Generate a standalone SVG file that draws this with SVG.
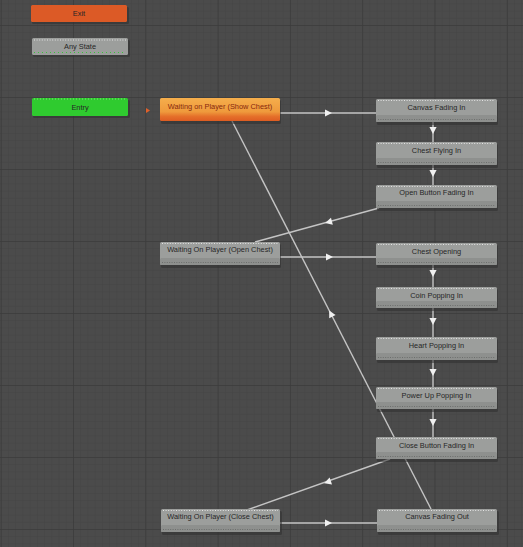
<svg xmlns="http://www.w3.org/2000/svg" width="523" height="547" viewBox="0 0 523 547">
  <defs>
    <!-- editor grid: fine lines every ~7px, heavy lines every ~72px -->
    <pattern id="gridMinor" x="0.7" y="25" width="7.23" height="7.2" patternUnits="userSpaceOnUse">
      <path d="M0,0 H7.23 M0,0 V7.2" fill="none" stroke="#444444" stroke-width="1"/>
    </pattern>
    <pattern id="gridMajor" x="0.7" y="25" width="72.3" height="72" patternUnits="userSpaceOnUse">
      <path d="M0,0 H72.3 M0,0 V72" fill="none" stroke="#3b3b3b" stroke-width="1.5"/>
    </pattern>
    <linearGradient id="orangeState" x1="0" y1="0" x2="0" y2="1">
      <stop offset="0" stop-color="#f5ae4c"/>
      <stop offset="0.6" stop-color="#ef9a3c"/>
      <stop offset="0.8" stop-color="#e5702a"/>
      <stop offset="1" stop-color="#dd5c22"/>
    </linearGradient>
    <path id="arrow" d="M4,0 L-3,-3.6 L-3,3.6 Z"/>
    <style>
      .bg { fill: #4b4b4b; }
      .shadow { fill: #303030; opacity: 0.55; }
      .state { fill: #9c9e9c; }
      .band { fill: #8e908e; }
      .hi { stroke: #e4e4e4; stroke-width: 1; stroke-dasharray: 1 1.6; fill: none; }
      .lo { stroke: #6c6e6c; stroke-width: 1; stroke-dasharray: 1 1.4; fill: none; }
      .label { font-family: "Liberation Sans", Arial, sans-serif; font-size: 7.4px; fill: #262626; text-anchor: middle; }
      .edge { stroke: #c4c4c4; stroke-width: 1.4; fill: none; }
      .head { fill: #f0f0f0; }
    </style>
  </defs>

  <!-- canvas -->
  <rect class="bg" x="0" y="0" width="523" height="547"/>
  <rect x="0" y="0" width="523" height="547" fill="url(#gridMinor)"/>
  <rect x="0" y="0" width="523" height="547" fill="url(#gridMajor)"/>

  <!-- transitions (drawn beneath the states) -->
  <g id="connectors">
    <line class="edge" x1="280" y1="113" x2="376" y2="113"/>
    <line class="edge" x1="433" y1="122" x2="433" y2="142"/>
    <line class="edge" x1="433" y1="165" x2="433" y2="185"/>
    <line class="edge" x1="379" y1="208" x2="255" y2="242"/>
    <line class="edge" x1="280" y1="257" x2="376" y2="257"/>
    <line class="edge" x1="433" y1="265" x2="433" y2="287"/>
    <line class="edge" x1="433" y1="308" x2="433" y2="337"/>
    <line class="edge" x1="433" y1="360" x2="433" y2="387"/>
    <line class="edge" x1="433" y1="409" x2="433" y2="437"/>
    <line class="edge" x1="390" y1="459" x2="247" y2="510"/>
    <line class="edge" x1="280" y1="523" x2="377" y2="523"/>
    <line class="edge" x1="431" y1="509" x2="232" y2="121"/>

    <use href="#arrow" class="head" transform="translate(328,113)"/>
    <use href="#arrow" class="head" transform="translate(433,130) rotate(90)"/>
    <use href="#arrow" class="head" transform="translate(433,173) rotate(90)"/>
    <use href="#arrow" class="head" transform="translate(329,222) rotate(165.4)"/>
    <use href="#arrow" class="head" transform="translate(329,257)"/>
    <use href="#arrow" class="head" transform="translate(433,273) rotate(90)"/>
    <use href="#arrow" class="head" transform="translate(433,321) rotate(90)"/>
    <use href="#arrow" class="head" transform="translate(433,372) rotate(90)"/>
    <use href="#arrow" class="head" transform="translate(433,422) rotate(90)"/>
    <use href="#arrow" class="head" transform="translate(328,482) rotate(160.4)"/>
    <use href="#arrow" class="head" transform="translate(328,523)"/>
    <use href="#arrow" class="head" transform="translate(331,314) rotate(-117.2)"/>
  </g>

  <!-- special states -->
  <g id="exit">
    <rect class="shadow" x="32" y="7" width="97" height="17" rx="1.5"/>
    <rect x="31" y="5" width="96" height="17" rx="1.5" fill="#dc5a26"/>
    <text class="label" x="79" y="16">Exit</text>
  </g>
  <g id="any-state">
    <rect class="shadow" x="33" y="40" width="97" height="17" rx="1.5"/>
    <rect class="state" x="32" y="38" width="96" height="17" rx="1.5"/>
    <path class="hi" d="M34,40 H126"/>
    <path d="M34,52.5 H126" stroke="#3ac23a" stroke-width="1" stroke-dasharray="1 3" fill="none"/>
    <text class="label" x="80" y="49">Any State</text>
  </g>
  <g id="entry">
    <rect class="shadow" x="33" y="100" width="97" height="18" rx="1.5"/>
    <rect x="32" y="98" width="96" height="18" rx="1.5" fill="#2fcb2f"/>
    <path d="M34,99 H126" stroke="#7ee27e" stroke-width="1" stroke-dasharray="1 2" fill="none"/>
    <text class="label" x="80" y="109.5">Entry</text>
  </g>

  <!-- default-state marker -->
  <path d="M146,108 L150,110.5 L146,113 Z" fill="#e0602a"/>

  <!-- default state -->
  <g id="waiting-show-chest">
    <rect class="shadow" x="161" y="100" width="120" height="24" rx="1.5"/>
    <rect x="160" y="98" width="120" height="23" rx="1.5" fill="url(#orangeState)"/>
    <text class="label" x="220" y="109" style="fill:#86290e">Waiting on Player (Show Chest)</text>
  </g>

  <!-- right column -->
  <g id="canvas-fading-in">
    <rect class="shadow" x="377" y="101" width="121" height="24" rx="1.5"/>
    <rect class="state" x="376" y="99" width="121" height="23" rx="1.5"/>
    <rect class="band" x="376" y="115" width="121" height="7" rx="1.5"/>
    <path class="hi" d="M378,100.5 H495"/>
    <path class="lo" d="M378,119.5 H495"/>
    <text class="label" x="436.5" y="110">Canvas Fading In</text>
  </g>
  <g id="chest-flying-in">
    <rect class="shadow" x="377" y="144" width="121" height="24" rx="1.5"/>
    <rect class="state" x="376" y="142" width="121" height="23" rx="1.5"/>
    <rect class="band" x="376" y="158" width="121" height="7" rx="1.5"/>
    <path class="hi" d="M378,143.5 H495"/>
    <path class="lo" d="M378,162.5 H495"/>
    <text class="label" x="436.5" y="153">Chest Flying In</text>
  </g>
  <g id="open-button-fading-in">
    <rect class="shadow" x="377" y="187" width="121" height="24" rx="1.5"/>
    <rect class="state" x="376" y="185" width="121" height="23" rx="1.5"/>
    <rect class="band" x="376" y="201" width="121" height="7" rx="1.5"/>
    <path class="hi" d="M378,186.5 H495"/>
    <path class="lo" d="M378,205.5 H495"/>
    <text class="label" x="436.5" y="195">Open Button Fading In</text>
  </g>
  <g id="chest-opening">
    <rect class="shadow" x="377" y="245" width="121" height="23" rx="1.5"/>
    <rect class="state" x="376" y="243" width="121" height="22" rx="1.5"/>
    <rect class="band" x="376" y="258" width="121" height="7" rx="1.5"/>
    <path class="hi" d="M378,244.5 H495"/>
    <path class="lo" d="M378,262.5 H495"/>
    <text class="label" x="436.5" y="253.5">Chest Opening</text>
  </g>
  <g id="coin-popping-in">
    <rect class="shadow" x="377" y="289" width="121" height="22" rx="1.5"/>
    <rect class="state" x="376" y="287" width="121" height="21" rx="1.5"/>
    <rect class="band" x="376" y="301" width="121" height="7" rx="1.5"/>
    <path class="hi" d="M378,288.5 H495"/>
    <path class="lo" d="M378,305.5 H495"/>
    <text class="label" x="436.5" y="297.5">Coin Popping In</text>
  </g>
  <g id="heart-popping-in">
    <rect class="shadow" x="377" y="339" width="121" height="24" rx="1.5"/>
    <rect class="state" x="376" y="337" width="121" height="23" rx="1.5"/>
    <rect class="band" x="376" y="353" width="121" height="7" rx="1.5"/>
    <path class="hi" d="M378,338.5 H495"/>
    <path class="lo" d="M378,357.5 H495"/>
    <text class="label" x="436.5" y="348">Heart Popping In</text>
  </g>
  <g id="power-up-popping-in">
    <rect class="shadow" x="377" y="389" width="121" height="23" rx="1.5"/>
    <rect class="state" x="376" y="387" width="121" height="22" rx="1.5"/>
    <rect class="band" x="376" y="402" width="121" height="7" rx="1.5"/>
    <path class="hi" d="M378,388.5 H495"/>
    <path class="lo" d="M378,406.5 H495"/>
    <text class="label" x="436.5" y="397.5">Power Up Popping In</text>
  </g>
  <g id="close-button-fading-in">
    <rect class="shadow" x="377" y="439" width="121" height="23" rx="1.5"/>
    <rect class="state" x="376" y="437" width="121" height="22" rx="1.5"/>
    <rect class="band" x="376" y="452" width="121" height="7" rx="1.5"/>
    <path class="hi" d="M378,438.5 H495"/>
    <path class="lo" d="M378,456.5 H495"/>
    <text class="label" x="436.5" y="447.5">Close Button Fading In</text>
  </g>
  <g id="canvas-fading-out">
    <rect class="shadow" x="378" y="511" width="121" height="24" rx="1.5"/>
    <rect class="state" x="377" y="509" width="120" height="23" rx="1.5"/>
    <rect class="band" x="377" y="525" width="120" height="7" rx="1.5"/>
    <path class="hi" d="M379,510.5 H495"/>
    <path class="lo" d="M379,529.5 H495"/>
    <text class="label" x="437" y="519">Canvas Fading Out</text>
  </g>

  <!-- waiting states on the left -->
  <g id="waiting-open-chest">
    <rect class="shadow" x="161" y="244" width="120" height="24" rx="1.5"/>
    <rect class="state" x="160" y="242" width="120" height="23" rx="1.5"/>
    <rect class="band" x="160" y="258" width="120" height="7" rx="1.5"/>
    <path class="hi" d="M162,243.5 H278"/>
    <path class="lo" d="M162,262.5 H278"/>
    <text class="label" x="220" y="252">Waiting On Player (Open Chest)</text>
  </g>
  <g id="waiting-close-chest">
    <rect class="shadow" x="162" y="511" width="120" height="24" rx="1.5"/>
    <rect class="state" x="161" y="509" width="119" height="23" rx="1.5"/>
    <rect class="band" x="161" y="525" width="119" height="7" rx="1.5"/>
    <path class="hi" d="M163,510.5 H278"/>
    <path class="lo" d="M163,529.5 H278"/>
    <text class="label" x="220.5" y="519">Waiting On Player (Close Chest)</text>
  </g>
</svg>
